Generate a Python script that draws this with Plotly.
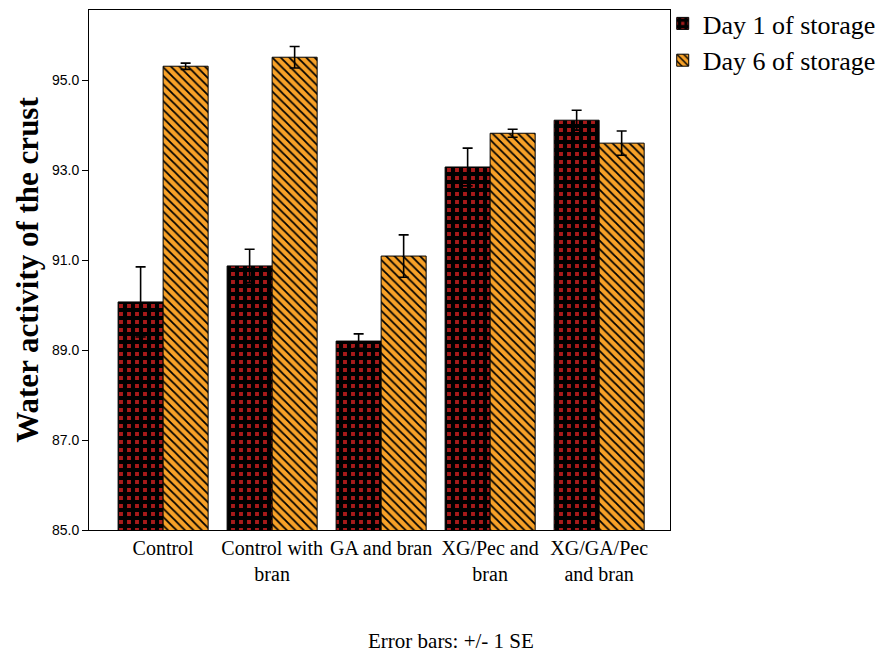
import plotly.graph_objects as go

categories = ["Control", "Control with<br>bran", "GA and bran", "XG/Pec and<br>bran", "XG/GA/Pec<br>and bran"]
day1_mean = [90.07, 90.87, 89.20, 93.07, 94.11]
day1_se = [0.78, 0.37, 0.16, 0.42, 0.22]
day6_mean = [95.31, 95.51, 91.09, 93.82, 93.60]
day6_se = [0.07, 0.24, 0.47, 0.09, 0.27]
y_ticks = [85.0, 87.0, 89.0, 91.0, 93.0, 95.0]

serif = "Liberation Serif"

fig = go.Figure()
fig.add_trace(go.Bar(
    x=categories, y=day1_mean, name="Day 1 of storage",
    marker=dict(color="#000000", line=dict(color="#000000", width=1),
                pattern=dict(shape="+", fgcolor="#000000", bgcolor="#A81A1A",
                             size=8, solidity=0.76, fillmode="replace")),
    error_y=dict(type="data", array=day1_se, color="#000000", thickness=1.6, width=5),
))
fig.add_trace(go.Bar(
    x=categories, y=day6_mean, name="Day 6 of storage",
    marker=dict(color="#F7A128", line=dict(color="#000000", width=1),
                pattern=dict(shape="\\", fgcolor="#000000", bgcolor="#F7A128",
                             size=6, solidity=0.3, fillmode="replace")),
    error_y=dict(type="data", array=day6_se, color="#000000", thickness=1.6, width=5),
))

fig.update_layout(
    width=886, height=657,
    margin=dict(l=89, r=216, t=10, b=127, autoexpand=False),
    paper_bgcolor="white", plot_bgcolor="white",
    barmode="group", bargap=0.174, bargroupgap=0,
    showlegend=True,
    legend=dict(xref="container", yref="container", x=0.748, y=1.0,
                xanchor="left", yanchor="top",
                font=dict(family=serif, size=26, color="black"),
                bgcolor="rgba(0,0,0,0)", tracegroupgap=0, itemwidth=30),
    xaxis=dict(range=[-0.68, 4.65], showline=True, linecolor="black", linewidth=1,
               mirror=True, ticks="", showgrid=False,
               tickfont=dict(family=serif, size=20, color="black")),
    yaxis=dict(range=[85, 96.56], tickvals=y_ticks,
               ticktext=[f"{v:.1f}" for v in y_ticks],
               showline=True, linecolor="black", linewidth=1, mirror=True,
               ticks="outside", ticklen=6, tickcolor="black", showgrid=False,
               zeroline=False,
               tickfont=dict(family="Liberation Sans", size=14, color="black"),
               title=dict(text="<b>Water activity of the crust</b>",
                          font=dict(family=serif, size=31, color="black"),
                          standoff=4)),
    annotations=[dict(text="Error bars: +/- 1 SE", xref="paper", yref="paper",
                      x=0.623, y=-0.2135, xanchor="center", yanchor="middle",
                      showarrow=False,
                      font=dict(family=serif, size=21, color="black"))],
)

fig.write_html("out.html")
